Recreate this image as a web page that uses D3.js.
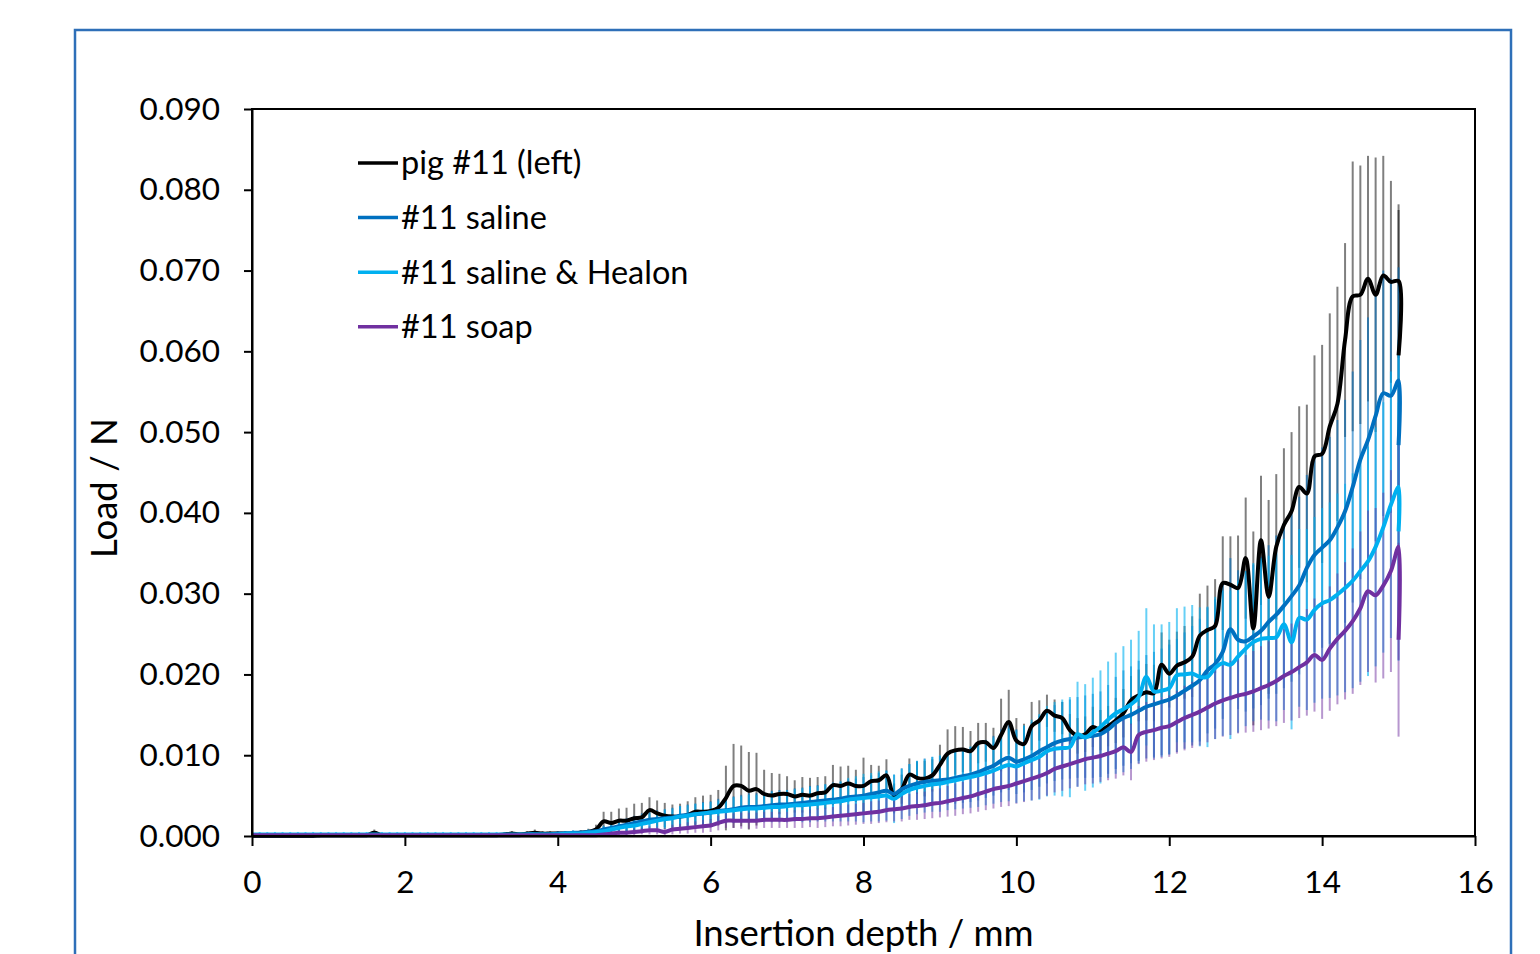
<!DOCTYPE html>
<html><head><meta charset="utf-8">
<script src="https://cdn.jsdelivr.net/npm/d3@7"></script>
<style>html,body{margin:0;padding:0;background:#fff;}svg{display:block;}</style>
</head><body>
<svg id="chart" width="1540" height="954"></svg>
<script>
// ---------- DATA (depth step 0.1 mm, last entry = end-of-test drop at 15 mm)
const seriesNames = ["pig #11 (left)", "#11 saline", "#11 saline & Healon", "#11 soap"];
const xTicks = [0, 2, 4, 6, 8, 10, 12, 14, 16];
const yTicks = [0, 0.01, 0.02, 0.03, 0.04, 0.05, 0.06, 0.07, 0.08, 0.09];

const pigMean = [
0,0,0,0,0,0,0,0,0,0.0001,
0.0001,0.0001,0.0001,0.0001,0.0001,0.0001,0.0004,0.0001,0.0001,0.0001,
0.0001,0.0001,0.0001,0.0001,0.0001,0.0001,0.0001,0.0001,0.0001,0.0001,
0.0001,0.0001,0.0001,0.0002,0.0003,0.0002,0.0003,0.0004,0.0003,0.0003,
0.0003,0.0003,0.0003,0.0004,0.0005,0.0008,0.0018,0.0016,0.0019,0.0019,
0.0022,0.0023,0.0032,0.0028,0.0025,0.0024,0.0024,0.0026,0.003,0.003,
0.0031,0.0035,0.0047,0.0062,0.0062,0.0056,0.0058,0.0052,0.005,0.0052,
0.0052,0.0049,0.0051,0.005,0.0053,0.0054,0.0063,0.0062,0.0065,0.0062,
0.0062,0.0068,0.0069,0.0075,0.005,0.0058,0.0076,0.0072,0.0071,0.0075,
0.0088,0.0102,0.0106,0.0107,0.0105,0.0115,0.0116,0.0109,0.0125,0.0141,
0.0118,0.0114,0.0136,0.0143,0.0155,0.0149,0.0146,0.0131,0.0124,0.0126,
0.0135,0.0131,0.0136,0.0143,0.0152,0.0168,0.0174,0.0178,0.0177,0.0212,
0.0201,0.0211,0.0215,0.0222,0.0248,0.0255,0.026,0.0313,0.0311,0.0307,
0.0344,0.0257,0.0366,0.0296,0.0358,0.0385,0.0402,0.0432,0.0424,0.047,
0.0473,0.0507,0.0535,0.0614,0.0668,0.067,0.069,0.067,0.0694,0.0686,
0.0687,0.0595];
const pigSD = [
0.0001,0.0001,0.0001,0.0001,0.0001,0.0001,0.0001,0.0001,0.0001,0.0001,
0.0001,0.0001,0.0001,0.0001,0.0001,0.0001,0.0004,0.0001,0.0001,0.0001,
0.0001,0.0001,0.0001,0.0001,0.0001,0.0001,0.0001,0.0001,0.0001,0.0001,
0.0001,0.0001,0.0001,0.0002,0.0003,0.0002,0.0003,0.0004,0.0003,0.0003,
0.0003,0.0003,0.0003,0.0003,0.0004,0.0006,0.0012,0.0014,0.0015,0.0016,
0.0018,0.0018,0.0016,0.0016,0.0016,0.0015,0.0016,0.0017,0.0018,0.002,
0.002,0.0022,0.004,0.0052,0.005,0.0048,0.0045,0.003,0.0028,0.0025,
0.0022,0.002,0.0022,0.0022,0.002,0.002,0.0025,0.0024,0.0022,0.002,
0.0035,0.002,0.0018,0.002,0.0015,0.0018,0.002,0.002,0.0022,0.002,
0.0025,0.003,0.003,0.0028,0.0025,0.0025,0.0024,0.0025,0.0045,0.004,
0.0028,0.0025,0.003,0.0025,0.002,0.002,0.002,0.002,0.0022,0.0022,
0.0025,0.0025,0.0025,0.0028,0.003,0.003,0.0032,0.0035,0.0035,0.004,
0.0042,0.0042,0.0045,0.005,0.0052,0.0055,0.0058,0.0058,0.006,0.0065,
0.0075,0.012,0.008,0.012,0.009,0.0095,0.0098,0.01,0.011,0.0125,
0.0135,0.014,0.0145,0.012,0.0167,0.016,0.0152,0.017,0.0148,0.0125,
0.0095,0.018];

const salineMean = [
0.0001,0.0001,0.0001,0.0001,0.0001,0.0001,0.0001,0.0001,0.0001,0.0001,
0.0001,0.0001,0.0001,0.0001,0.0001,0.0001,0.0001,0.0001,0.0001,0.0001,
0.0001,0.0001,0.0001,0.0001,0.0001,0.0001,0.0001,0.0001,0.0001,0.0001,
0.0001,0.0001,0.0001,0.0001,0.0001,0.0001,0.0002,0.0002,0.0002,0.0002,
0.0003,0.0003,0.0004,0.0004,0.0005,0.0006,0.0008,0.001,0.0012,0.0014,
0.0016,0.0018,0.002,0.0021,0.0022,0.0023,0.0025,0.0026,0.0027,0.0028,
0.0029,0.0031,0.0032,0.0033,0.0035,0.0036,0.0036,0.0037,0.0038,0.0039,
0.0039,0.004,0.0041,0.0042,0.0043,0.0044,0.0045,0.0046,0.0048,0.0049,
0.005,0.0052,0.0054,0.0056,0.0052,0.0058,0.0062,0.0065,0.0067,0.0068,
0.0069,0.007,0.0072,0.0074,0.0076,0.0079,0.0083,0.0087,0.0093,0.0097,
0.0092,0.0095,0.0099,0.0105,0.011,0.0115,0.0118,0.012,0.0122,0.0123,
0.0124,0.0126,0.0132,0.014,0.0146,0.015,0.0155,0.016,0.0163,0.0166,
0.0169,0.0174,0.018,0.0186,0.0193,0.0205,0.0213,0.0228,0.0256,0.0243,
0.0241,0.0247,0.0254,0.0265,0.0274,0.0285,0.0297,0.031,0.0332,0.0348,
0.0357,0.0366,0.0382,0.0402,0.0432,0.0466,0.049,0.052,0.0548,0.0545,
0.0564,0.0484];
const salineSD = [
0.0002,0.0002,0.0002,0.0002,0.0002,0.0002,0.0002,0.0002,0.0002,0.0002,
0.0002,0.0002,0.0002,0.0002,0.0002,0.0002,0.0002,0.0002,0.0002,0.0002,
0.0002,0.0002,0.0002,0.0002,0.0002,0.0002,0.0002,0.0002,0.0002,0.0002,
0.0002,0.0002,0.0002,0.0002,0.0002,0.0002,0.0002,0.0002,0.0002,0.0002,
0.0002,0.0002,0.0003,0.0003,0.0003,0.0004,0.0005,0.0006,0.0007,0.0008,
0.0009,0.001,0.001,0.0011,0.0011,0.0012,0.0012,0.0013,0.0013,0.0014,
0.0014,0.0015,0.0015,0.0016,0.0016,0.0017,0.0017,0.0017,0.0018,0.0018,
0.0018,0.0019,0.0019,0.002,0.002,0.002,0.0021,0.0021,0.0022,0.0022,
0.0023,0.0023,0.0024,0.0025,0.0024,0.0026,0.0027,0.0028,0.0029,0.003,
0.003,0.0031,0.0032,0.0033,0.0034,0.0035,0.0036,0.0037,0.0039,0.004,
0.004,0.0041,0.0042,0.0044,0.0045,0.0047,0.0048,0.0049,0.005,0.0051,
0.0052,0.0053,0.0055,0.0057,0.0059,0.006,0.0062,0.0064,0.0065,0.0066,
0.0068,0.007,0.0072,0.0074,0.0076,0.0078,0.008,0.0083,0.0088,0.0086,
0.0087,0.0089,0.0092,0.0095,0.0098,0.0102,0.0106,0.011,0.0115,0.012,
0.0124,0.0128,0.0133,0.0138,0.0143,0.0148,0.0152,0.0155,0.0152,0.0145,
0.014,0.013];

const healonMean = [
0.0002,0.0002,0.0002,0.0002,0.0002,0.0002,0.0002,0.0002,0.0002,0.0002,
0.0002,0.0002,0.0002,0.0002,0.0002,0.0002,0.0002,0.0002,0.0002,0.0002,
0.0002,0.0002,0.0002,0.0002,0.0002,0.0002,0.0002,0.0002,0.0002,0.0002,
0.0002,0.0002,0.0002,0.0002,0.0002,0.0002,0.0002,0.0002,0.0002,0.0002,
0.0002,0.0003,0.0003,0.0003,0.0004,0.0005,0.0006,0.0008,0.001,0.0012,
0.0013,0.0015,0.0017,0.0019,0.0021,0.0022,0.0024,0.0025,0.0027,0.0028,
0.0029,0.003,0.0031,0.0032,0.0033,0.0034,0.0034,0.0035,0.0036,0.0036,
0.0037,0.0038,0.0038,0.0039,0.004,0.0041,0.0042,0.0043,0.0045,0.0046,
0.0047,0.0048,0.0049,0.005,0.0046,0.0052,0.0057,0.006,0.0062,0.0064,
0.0065,0.0067,0.0069,0.0071,0.0073,0.0075,0.0078,0.0081,0.0085,0.0088,
0.0086,0.009,0.0094,0.0098,0.0105,0.0108,0.0109,0.011,0.0126,0.0122,
0.0128,0.0135,0.0144,0.0152,0.0157,0.0163,0.0172,0.0197,0.0179,0.018,
0.0183,0.0199,0.02,0.0201,0.0197,0.0197,0.0208,0.0214,0.0212,0.0222,
0.0232,0.024,0.0244,0.0245,0.0246,0.0262,0.024,0.027,0.0268,0.028,
0.0288,0.0292,0.0299,0.0307,0.0316,0.0328,0.034,0.0358,0.0382,0.041,
0.0432,0.0377];
const healonSD = [
0.0003,0.0003,0.0003,0.0003,0.0003,0.0003,0.0003,0.0003,0.0003,0.0003,
0.0003,0.0003,0.0003,0.0003,0.0003,0.0003,0.0003,0.0003,0.0003,0.0003,
0.0003,0.0003,0.0003,0.0003,0.0003,0.0003,0.0003,0.0003,0.0003,0.0003,
0.0003,0.0003,0.0003,0.0003,0.0003,0.0003,0.0003,0.0003,0.0003,0.0003,
0.0003,0.0003,0.0003,0.0003,0.0004,0.0005,0.0006,0.0007,0.0008,0.0009,
0.001,0.001,0.0011,0.0011,0.0012,0.0012,0.0013,0.0013,0.0013,0.0013,
0.0013,0.0014,0.0015,0.0016,0.0016,0.0017,0.0017,0.0018,0.0019,0.0019,
0.002,0.002,0.0021,0.0022,0.0022,0.0023,0.0024,0.0025,0.0027,0.0028,
0.003,0.003,0.0031,0.0031,0.003,0.0031,0.0032,0.0033,0.0033,0.0034,
0.0035,0.0035,0.0036,0.0037,0.0038,0.0039,0.004,0.0041,0.0043,0.0045,
0.0045,0.0047,0.005,0.0053,0.0056,0.0058,0.006,0.0062,0.0065,0.0066,
0.0068,0.007,0.0072,0.0075,0.0078,0.008,0.0082,0.0085,0.0083,0.0082,
0.0082,0.0083,0.0084,0.0085,0.0086,0.0087,0.0088,0.009,0.0092,0.0094,
0.0096,0.0098,0.01,0.0102,0.0104,0.0106,0.0108,0.011,0.0112,0.0115,
0.0118,0.0121,0.0125,0.0129,0.0133,0.0137,0.0142,0.0148,0.0155,0.0165,
0.018,0.016];

const soapMean = [
0.0001,0.0001,0.0001,0.0001,0.0001,0.0001,0.0001,0.0001,0.0001,0.0001,
0.0001,0.0001,0.0001,0.0001,0.0001,0.0001,0.0001,0.0001,0.0001,0.0001,
0.0001,0.0001,0.0001,0.0001,0.0001,0.0001,0.0001,0.0001,0.0001,0.0001,
0.0001,0.0001,0.0001,0.0001,0.0001,0.0001,0.0001,0.0001,0.0001,0.0001,
0.0001,0.0001,0.0001,0.0001,0.0001,0.0001,0.0002,0.0003,0.0004,0.0004,
0.0005,0.0006,0.0007,0.0007,0.0005,0.0008,0.0009,0.001,0.0011,0.0012,
0.0013,0.0016,0.0019,0.0019,0.0019,0.0019,0.0019,0.002,0.002,0.002,
0.002,0.0021,0.0021,0.0022,0.0022,0.0023,0.0024,0.0025,0.0026,0.0027,
0.0028,0.0029,0.003,0.0032,0.0033,0.0034,0.0036,0.0037,0.0038,0.004,
0.0041,0.0043,0.0045,0.0047,0.0049,0.0052,0.0055,0.0058,0.006,0.0062,
0.0065,0.0068,0.0071,0.0074,0.0078,0.0083,0.0086,0.0089,0.0092,0.0095,
0.0097,0.0099,0.0102,0.0105,0.011,0.0104,0.0125,0.0129,0.0131,0.0134,
0.0136,0.0141,0.0146,0.015,0.0154,0.0159,0.0164,0.0168,0.0171,0.0174,
0.0176,0.0179,0.0183,0.0187,0.0192,0.0198,0.0203,0.0209,0.0215,0.0224,
0.0218,0.0232,0.0244,0.0254,0.0266,0.0282,0.0303,0.0298,0.031,0.0328,
0.0358,0.0243];
const soapSD = [
0.0001,0.0001,0.0001,0.0001,0.0001,0.0001,0.0001,0.0001,0.0001,0.0001,
0.0001,0.0001,0.0001,0.0001,0.0001,0.0001,0.0001,0.0001,0.0001,0.0001,
0.0001,0.0001,0.0001,0.0001,0.0001,0.0001,0.0001,0.0001,0.0001,0.0001,
0.0001,0.0001,0.0001,0.0001,0.0001,0.0001,0.0001,0.0001,0.0001,0.0001,
0.0001,0.0001,0.0001,0.0001,0.0001,0.0001,0.0002,0.0002,0.0003,0.0003,
0.0004,0.0004,0.0005,0.0005,0.0005,0.0006,0.0006,0.0007,0.0007,0.0008,
0.0008,0.0009,0.0009,0.0009,0.001,0.001,0.001,0.001,0.001,0.001,
0.001,0.0011,0.0011,0.0011,0.0012,0.0012,0.0012,0.0013,0.0013,0.0013,
0.0013,0.0014,0.0014,0.0015,0.0015,0.0016,0.0016,0.0017,0.0017,0.0018,
0.0018,0.0019,0.002,0.002,0.0021,0.0022,0.0023,0.0024,0.0024,0.0025,
0.0025,0.0026,0.0027,0.0028,0.0028,0.0029,0.003,0.003,0.0031,0.0031,
0.0032,0.0032,0.0033,0.0034,0.0035,0.0035,0.0036,0.0037,0.0037,0.0038,
0.0038,0.0039,0.004,0.0041,0.0042,0.0043,0.0044,0.0045,0.0046,0.0047,
0.0048,0.005,0.0052,0.0054,0.0056,0.0058,0.006,0.0063,0.0066,0.007,
0.0073,0.0077,0.0081,0.0085,0.009,0.0095,0.01,0.0108,0.0115,0.0125,
0.014,0.012];

// depth grid: 0.0 … 15.0 mm in 0.1 mm steps, plus the final retraction point at 15.0 mm
const depth = pigMean.map((_, i) => Math.min(i, 150) / 10);

// ---------- CHART
const colors = ["#000000", "#0070C0", "#00B0F0", "#7030A0"];
const barOpacity = [0.5, 0.6, 0.6, 0.5];
const means = [pigMean, salineMean, healonMean, soapMean];
const sds = [pigSD, salineSD, healonSD, soapSD];

const svg = d3.select("#chart");
const FONT = "Lato, 'Open Sans', sans-serif";

svg.append("rect").attr("width", 1540).attr("height", 954).attr("fill", "#fff");
// outer frame
svg.append("rect").attr("x", 75).attr("y", 30).attr("width", 1436).attr("height", 960)
  .attr("fill", "none").attr("stroke", "#2E6FB8").attr("stroke-width", 2.5);

const L = 252, R = 1475, T = 109, B = 836;
const x = d3.scaleLinear().domain([0, 16]).range([L, R]);
const y = d3.scaleLinear().domain([0, 0.09]).range([B, T]);

const plot = svg.append("g");

// error bars
means.forEach((m, s) => {
  plot.append("g").selectAll("line").data(m).join("line")
    .attr("x1", (d, i) => x(depth[i])).attr("x2", (d, i) => x(depth[i]))
    .attr("y1", (d, i) => y(Math.min(0.09, d + sds[s][i])))
    .attr("y2", (d, i) => y(Math.max(0, d - sds[s][i])))
    .attr("stroke", colors[s]).attr("stroke-opacity", barOpacity[s]).attr("stroke-width", 2);
});

// mean lines
const line = d3.line().x((d, i) => x(depth[i])).y(d => y(d)).curve(d3.curveCatmullRom.alpha(0.5));
means.forEach((m, s) => {
  plot.append("path").datum(m).attr("d", line)
    .attr("fill", "none").attr("stroke", colors[s]).attr("stroke-width", 4)
    .attr("stroke-linejoin", "round").attr("stroke-linecap", "butt");
});

// plot box
svg.append("rect").attr("x", L).attr("y", T).attr("width", R - L).attr("height", B - T)
  .attr("fill", "none").attr("stroke", "#000").attr("stroke-width", 2);

// axes
const xAxis = d3.axisBottom(x).tickValues(xTicks).tickSize(10).tickSizeOuter(0).tickPadding(25)
  .tickFormat(d3.format("d"));
const gx = svg.append("g").attr("transform", `translate(0,${B})`).call(xAxis);
const yAxis = d3.axisLeft(y).tickValues(yTicks).tickSize(8).tickSizeOuter(0).tickPadding(24)
  .tickFormat(d3.format(".3f"));
const gy = svg.append("g").attr("transform", `translate(${L},0)`).call(yAxis);
[gx, gy].forEach(g => {
  g.select(".domain").attr("stroke", "#000").attr("stroke-width", 2);
  g.selectAll(".tick line").attr("stroke", "#000").attr("stroke-width", 2);
  g.selectAll(".tick text").attr("fill", "#000").style("font-family", FONT).style("font-size", "31.5px");
});

// axis titles
svg.append("text").attr("x", (L + R) / 2).attr("y", 946).attr("text-anchor", "middle")
  .style("font-family", FONT).style("font-size", "36.5px").attr("fill", "#000")
  .text("Insertion depth / mm");
svg.append("text").attr("transform", "translate(117,488) rotate(-90)").attr("text-anchor", "middle")
  .style("font-family", FONT).style("font-size", "36.5px").attr("fill", "#000")
  .text("Load / N");

// legend
const leg = svg.append("g");
seriesNames.forEach((name, i) => {
  const ly = 163 + i * 54.6;
  leg.append("line").attr("x1", 358).attr("x2", 398).attr("y1", ly).attr("y2", ly)
    .attr("stroke", colors[i]).attr("stroke-width", 3.5);
  leg.append("text").attr("x", 401).attr("y", ly).attr("dy", "0.35em")
    .style("font-family", FONT).style("font-size", "32.5px").attr("fill", "#000").text(name);
});
</script>
</body></html>
